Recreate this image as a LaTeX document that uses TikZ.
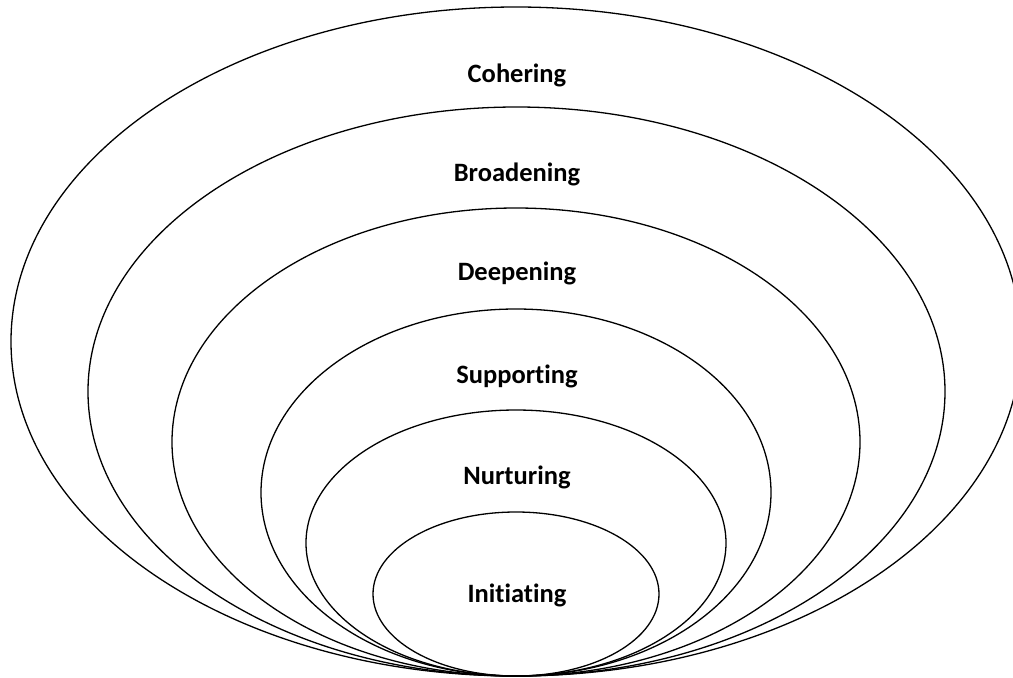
\documentclass[tikz,border=0pt]{standalone}
\usepackage{fontspec}
\setmainfont[Ligatures={NoCommon}]{Carlito}
\begin{document}
\begin{tikzpicture}[x=1pt,y=-1pt,
  ring/.style={draw=black,line width=1.3pt},
  tag/.style={font=\bfseries\fontsize{26.5}{30}\selectfont,inner sep=0pt}]
\useasboundingbox (0,0) rectangle (1013,678);
\begin{scope}
\clip (0,0) rectangle (1013,678);
% nested ellipses, all touching at the bottom point
\draw[ring] (516,341.5) ellipse [x radius=505,y radius=334.5];
\draw[ring] (516.5,391.5) ellipse [x radius=428.5,y radius=284.5];
\draw[ring] (516,442) ellipse [x radius=344,y radius=234];
\draw[ring] (516,492.5) ellipse [x radius=255,y radius=183.5];
\draw[ring] (516,543) ellipse [x radius=210,y radius=133];
\draw[ring] (516,594) ellipse [x radius=143,y radius=82];
\end{scope}
\node[tag] (coh) at (517,75) {Cohering};
\node[tag] (bro) at (517,174) {Broadening};
\node[tag] (dee) at (517,273) {Deepening};
\node[tag] (sup) at (517,376) {Supporting};
\node[tag] (nur) at (517,477) {Nurturing};
\node[tag] (ini) at (517,595) {Initiating};
\end{tikzpicture}
\end{document}
